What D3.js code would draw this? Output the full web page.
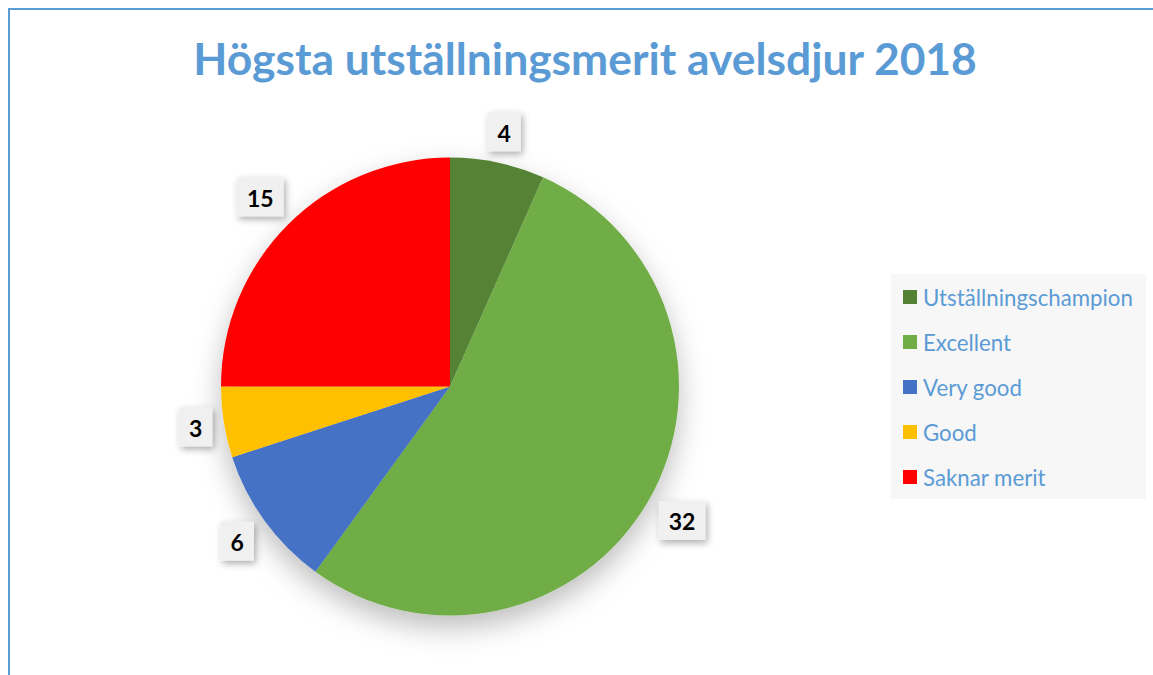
<!DOCTYPE html>
<html>
<head>
<meta charset="utf-8">
<script src="https://cdn.jsdelivr.net/npm/d3@7/dist/d3.min.js"></script>
<style>
  html, body { margin: 0; padding: 0; background: #ffffff; }
  svg { display: block; }
</style>
</head>
<body>
<svg id="chart" width="1153" height="675"></svg>
<script>
const title = "Högsta utställningsmerit avelsdjur 2018";
const categories = ["Utställningschampion", "Excellent", "Very good", "Good", "Saknar merit"];
const values = [4, 32, 6, 3, 15];
const colors = ["#548235", "#70AD47", "#4472C4", "#FFC000", "#FF0000"];

const W = 1153, H = 675;
const svg = d3.select("#chart");
const FONT = "Lato, 'Open Sans', 'Noto Sans', sans-serif";

const defs = svg.append("defs");
const pieShadow = defs.append("filter").attr("id", "pieShadow")
  .attr("x", "-30%").attr("y", "-30%").attr("width", "160%").attr("height", "160%");
pieShadow.append("feDropShadow").attr("dx", 0).attr("dy", 12)
  .attr("stdDeviation", 14).attr("flood-color", "#000").attr("flood-opacity", 0.26);

const boxShadow = defs.append("filter").attr("id", "boxShadow")
  .attr("x", "-50%").attr("y", "-50%").attr("width", "200%").attr("height", "200%");
boxShadow.append("feDropShadow").attr("dx", 2).attr("dy", 3)
  .attr("stdDeviation", 3.5).attr("flood-color", "#000").attr("flood-opacity", 0.32);

// chart frame
svg.append("rect").attr("x", 9).attr("y", 9).attr("width", W + 50).attr("height", H + 50)
  .attr("fill", "#fff").attr("stroke", "#5B9BD5").attr("stroke-width", 2);

// title
const t = svg.append("text")
  .attr("x", 585).attr("y", 75)
  .attr("text-anchor", "middle")
  .attr("font-family", FONT).attr("font-weight", "bold")
  .attr("font-size", 40).attr("fill", "#5B9BD5")
  .text(title);
const tw = t.node().getComputedTextLength();
t.attr("font-size", 40 * 784 / tw);

// pie
const cx = 450, cy = 386.5, r = 229;
const pie = d3.pie().sort(null).value(d => d.v);
const arcs = pie(values.map((v, i) => ({ v, c: categories[i], col: colors[i] })));
const arc = d3.arc().innerRadius(0).outerRadius(r);

const g = svg.append("g").attr("transform", `translate(${cx},${cy})`);
g.append("g").attr("filter", "url(#pieShadow)")
  .selectAll("path").data(arcs).join("path")
  .attr("d", arc)
  .attr("fill", d => d.data.col);

// data labels (outside end)
const lg = g.append("g");
arcs.forEach(d => {
  const a = (d.startAngle + d.endAngle) / 2;
  const lab = lg.append("g");
  const txt = lab.append("text")
    .attr("text-anchor", "middle").attr("dominant-baseline", "central")
    .attr("font-family", FONT).attr("font-weight", "bold")
    .attr("font-size", 23).attr("fill", "#000")
    .text(d.data.v);
  const w = txt.node().getComputedTextLength() + 20, h = 39;
  const ext = Math.abs(Math.sin(a)) * w / 2 + Math.abs(Math.cos(a)) * h / 2;
  const R = r + 9 + ext;
  const x = R * Math.sin(a), y = -R * Math.cos(a);
  lab.insert("rect", "text")
    .attr("x", x - w / 2).attr("y", y - h / 2).attr("width", w).attr("height", h)
    .attr("fill", "#F0F0F0").attr("filter", "url(#boxShadow)");
  txt.attr("x", x).attr("y", y + 1);
});

// legend
const legend = svg.append("g");
legend.append("rect").attr("x", 891).attr("y", 274).attr("width", 255).attr("height", 225)
  .attr("fill", "#F7F7F7");
const items = legend.selectAll("g.item").data(categories).join("g")
  .attr("class", "item")
  .attr("transform", (d, i) => `translate(903, ${297 + i * 45})`);
items.append("rect").attr("x", 0).attr("y", -7).attr("width", 14).attr("height", 14)
  .attr("fill", (d, i) => colors[i]);
const ltexts = items.append("text").attr("x", 20).attr("y", 0)
  .attr("dominant-baseline", "central")
  .attr("font-family", FONT).attr("font-size", 20).attr("fill", "#5B9BD5")
  .text(d => d);
const lw = ltexts.nodes()[0].getComputedTextLength();
ltexts.attr("font-size", 20 * 210 / lw);
</script>
</body>
</html>
